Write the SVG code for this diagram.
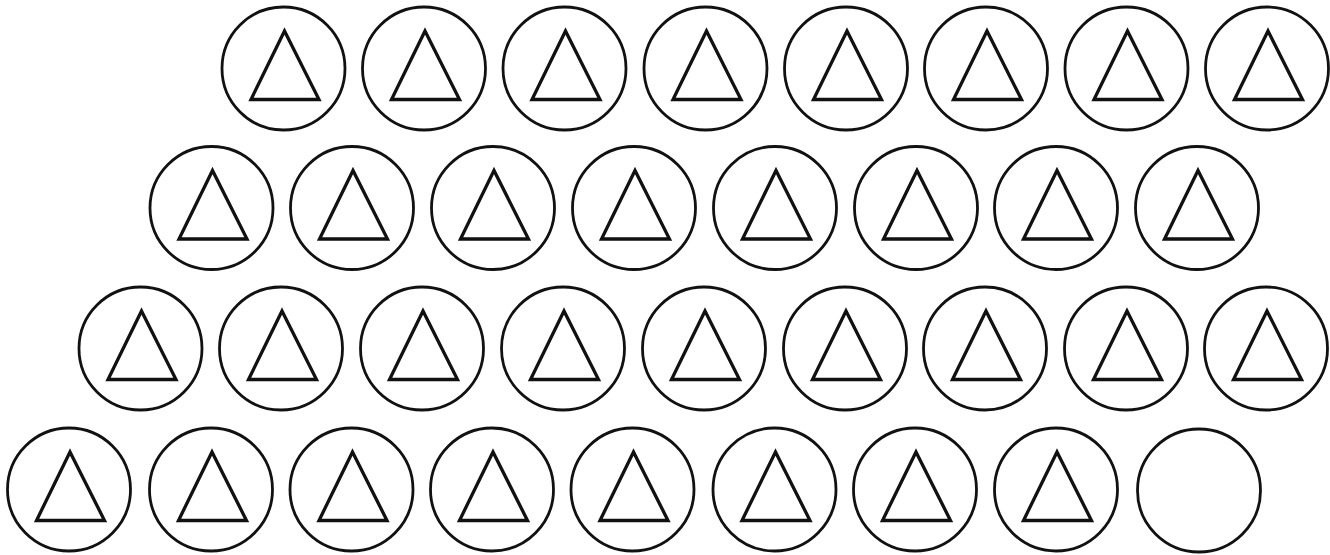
<svg xmlns="http://www.w3.org/2000/svg" xmlns:xlink="http://www.w3.org/1999/xlink" width="1330" height="555" viewBox="0 0 1330 555">
<defs>
<style>
.c{fill:none;stroke:#111;stroke-width:2.8}
.t{fill:none;stroke:#111;stroke-width:3.3;stroke-linejoin:miter}
</style>
<g id="tri-node">
<circle class="c" cx="0" cy="0" r="61.5"/>
<polygon class="t" points="1,-37.5 -32.5,31 35.5,31"/>
</g>
<g id="empty-node">
<circle class="c" cx="0" cy="0" r="61.5"/>
</g>
</defs>
<rect width="1330" height="555" fill="#fff"/>
<g id="row1">
<use id="n1-1" href="#tri-node" x="283.5" y="68.5"/>
<use id="n1-2" href="#tri-node" x="424" y="68.5"/>
<use id="n1-3" href="#tri-node" x="564.5" y="68.5"/>
<use id="n1-4" href="#tri-node" x="705.5" y="68.5"/>
<use id="n1-5" href="#tri-node" x="846" y="68.5"/>
<use id="n1-6" href="#tri-node" x="986" y="68.5"/>
<use id="n1-7" href="#tri-node" x="1126.5" y="68.5"/>
<use id="n1-8" href="#tri-node" x="1267" y="68.5"/>
</g>
<g id="row2">
<use id="n2-1" href="#tri-node" x="211.5" y="208"/>
<use id="n2-2" href="#tri-node" x="352" y="208"/>
<use id="n2-3" href="#tri-node" x="493" y="208"/>
<use id="n2-4" href="#tri-node" x="634" y="208"/>
<use id="n2-5" href="#tri-node" x="775" y="208"/>
<use id="n2-6" href="#tri-node" x="916" y="208"/>
<use id="n2-7" href="#tri-node" x="1056" y="208"/>
<use id="n2-8" href="#tri-node" x="1197" y="208"/>
</g>
<g id="row3">
<use id="n3-1" href="#tri-node" x="140.5" y="348.5"/>
<use id="n3-2" href="#tri-node" x="281" y="348.5"/>
<use id="n3-3" href="#tri-node" x="422" y="348.5"/>
<use id="n3-4" href="#tri-node" x="563" y="348.5"/>
<use id="n3-5" href="#tri-node" x="704" y="348.5"/>
<use id="n3-6" href="#tri-node" x="845" y="348.5"/>
<use id="n3-7" href="#tri-node" x="985" y="348.5"/>
<use id="n3-8" href="#tri-node" x="1126" y="348.5"/>
<use id="n3-9" href="#tri-node" x="1266" y="348.5"/>
</g>
<g id="row4">
<use id="n4-1" href="#tri-node" x="69" y="489.5"/>
<use id="n4-2" href="#tri-node" x="211" y="489.5"/>
<use id="n4-3" href="#tri-node" x="351.5" y="489.5"/>
<use id="n4-4" href="#tri-node" x="492" y="489.5"/>
<use id="n4-5" href="#tri-node" x="632.5" y="489.5"/>
<use id="n4-6" href="#tri-node" x="774.5" y="489.5"/>
<use id="n4-7" href="#tri-node" x="915" y="489.5"/>
<use id="n4-8" href="#tri-node" x="1056" y="489.5"/>
<use id="n4-9" href="#empty-node" x="1199" y="490.5"/>
</g>
<g id="connectors"/>
</svg>
